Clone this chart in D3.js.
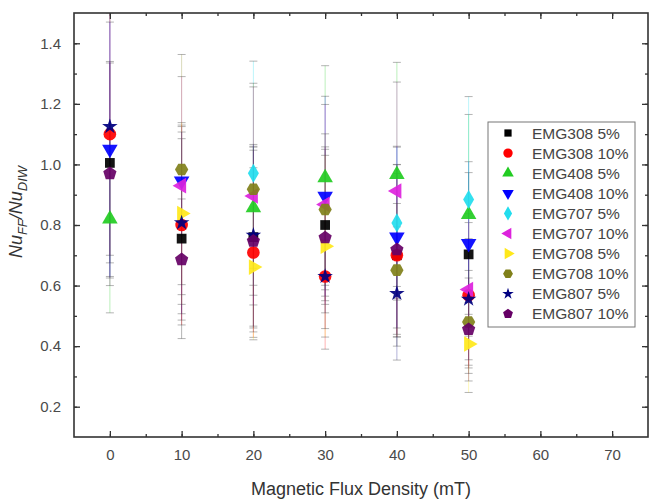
<!DOCTYPE html>
<html>
<head>
<meta charset="utf-8">
<script src="https://cdn.jsdelivr.net/npm/d3@7"></script>
<style>
  body { margin: 0; background: #fff; }
  svg { font-family: "Liberation Sans", Arial, sans-serif; }
</style>
</head>
<body>
<svg id="chart" width="649" height="500"></svg>
<script>
// Magnetic flux density (mT)
const fluxValues = [0, 10, 20, 30, 40, 50];

const seriesNames = [
  'EMG308 5%', 'EMG308 10%', 'EMG408 5%', 'EMG408 10%', 'EMG707 5%',
  'EMG707 10%', 'EMG708 5%', 'EMG708 10%', 'EMG807 5%', 'EMG807 10%'
];

// Nu_FF / Nu_DIW, one row per series (null = no visible point)
const ratioValues = [
  [1.005, 0.755, 0.76, 0.80, 0.70, 0.703],
  [1.10, 0.80, 0.709, 0.63, 0.70, 0.568],
  [0.82, null, 0.857, 0.956, 0.967, 0.835],
  [1.05, 0.945, null, 0.895, 0.76, 0.739],
  [null, null, 0.971, null, 0.807, 0.884],
  [null, 0.93, 0.896, 0.868, 0.912, 0.587],
  [null, 0.838, 0.661, 0.73, null, 0.407],
  [null, 0.983, 0.918, 0.851, 0.651, 0.48],
  [1.125, 0.807, 0.766, 0.63, 0.574, 0.555],
  [0.97, 0.686, 0.747, 0.758, 0.719, 0.455]
];

// symmetric error bars
const ratioErrors = [
  [0.33, 0.33, 0.30, 0.25, 0.30, 0.27],
  [0.40, 0.33, 0.28, 0.24, 0.27, 0.24],
  [0.31, null, 0.20, 0.37, 0.37, 0.33],
  [0.42, 0.18, null, 0.33, 0.30, 0.27],
  [null, null, 0.37, null, 0.25, 0.34],
  [null, 0.36, 0.36, 0.33, 0.36, 0.25],
  [null, 0.30, 0.24, 0.30, null, 0.16],
  [null, 0.38, 0.35, 0.25, 0.22, 0.17],
  [0.50, 0.30, 0.30, 0.12, 0.22, 0.20],
  [0.37, 0.20, 0.30, 0.30, 0.28, 0.17]
];

const xTicks = [0, 10, 20, 30, 40, 50, 60, 70];
const yTicks = [0.2, 0.4, 0.6, 0.8, 1.0, 1.2, 1.4];

const colors = ['#000000', '#ff0000', '#22cc22', '#0000ff', '#22ddee',
  '#dd22dd', '#ffe81a', '#80801a', '#000080', '#660066'];

// custom polygon symbols
function polygon(n, rot) {
  return {
    draw(ctx, size) {
      const r = Math.sqrt(size / (n * 0.5 * Math.sin(2 * Math.PI / n)));
      for (let i = 0; i < n; i++) {
        const a = rot + i * 2 * Math.PI / n;
        const px = r * Math.sin(a), py = -r * Math.cos(a);
        if (i === 0) ctx.moveTo(px, py); else ctx.lineTo(px, py);
      }
      ctx.closePath();
    }
  };
}
const symbolDefs = [
  { type: d3.symbolSquare, size: 95, rot: 0 },
  { type: d3.symbolCircle, size: 125, rot: 0 },
  { type: d3.symbolTriangle, size: 105, rot: 0 },
  { type: d3.symbolTriangle, size: 105, rot: 180 },
  { type: d3.symbolDiamond, size: 105, rot: 0 },
  { type: d3.symbolTriangle, size: 105, rot: -90 },
  { type: d3.symbolTriangle, size: 105, rot: 90 },
  { type: polygon(6, Math.PI / 6), size: 115, rot: 0 },
  { type: d3.symbolStar, size: 75, rot: 0 },
  { type: polygon(5, 0), size: 115, rot: 0 }
];

const svg = d3.select('#chart');
const pLeft = 74, pRight = 648, pTop = 13, pBottom = 437;

const x = d3.scaleLinear().domain([-5, 75]).range([pLeft, pRight]);
const y = d3.scaleLinear().domain([0.1, 1.5]).range([pBottom, pTop]);

svg.append('defs').append('clipPath').attr('id', 'plotclip')
  .append('rect').attr('x', pLeft).attr('y', pTop)
  .attr('width', pRight - pLeft).attr('height', pBottom - pTop);

const plot = svg.append('g').attr('clip-path', 'url(#plotclip)');

// error bars
seriesNames.forEach((name, s) => {
  fluxValues.forEach((fx, i) => {
    const v = ratioValues[s][i], e = ratioErrors[s][i];
    if (v == null || e == null) return;
    const g = plot.append('g').attr('stroke', colors[s]).attr('stroke-opacity', 0.3).attr('stroke-width', 1);
    const cx = x(fx);
    g.append('line').attr('x1', cx).attr('x2', cx).attr('y1', y(v - e)).attr('y2', y(v + e));
    [v - e, v + e].forEach(t => {
      g.append('line').attr('x1', cx - 4).attr('x2', cx + 4).attr('y1', y(t)).attr('y2', y(t))
        .attr('stroke', '#444').attr('stroke-opacity', 0.4);
    });
  });
});

// markers
seriesNames.forEach((name, s) => {
  const def = symbolDefs[s];
  const path = d3.symbol().type(def.type).size(def.size)();
  fluxValues.forEach((fx, i) => {
    const v = ratioValues[s][i];
    if (v == null) return;
    plot.append('path').attr('d', path)
      .attr('transform', `translate(${x(fx)},${y(v)}) rotate(${def.rot})`)
      .attr('fill', colors[s]).attr('fill-opacity', 0.92);
  });
});

// axes (ticks inward, mirrored on top and right)
const xMinor = d3.range(-5, 76, 5).filter(v => v > -5 && v < 75);
const yMinor = d3.range(0.1, 1.51, 0.1).map(v => +v.toFixed(1)).filter(v => v > 0.1 && v < 1.5);

const axBottom = d3.axisBottom(x).tickValues(xMinor).tickSize(-3).tickFormat('');
const axBottomMajor = d3.axisBottom(x).tickValues(xTicks).tickSize(-6).tickPadding(12).tickFormat(d3.format('d'));
const axTop = d3.axisTop(x).tickValues(xMinor).tickSize(-3).tickFormat('');
const axTopMajor = d3.axisTop(x).tickValues(xTicks).tickSize(-6).tickFormat('');
const axLeft = d3.axisLeft(y).tickValues(yMinor).tickSize(-3).tickFormat('');
const axLeftMajor = d3.axisLeft(y).tickValues(yTicks).tickSize(-6).tickPadding(13).tickFormat(d3.format('.1f'));
const axRight = d3.axisRight(y).tickValues(yMinor).tickSize(-3).tickFormat('');
const axRightMajor = d3.axisRight(y).tickValues(yTicks).tickSize(-6).tickFormat('');

function drawAxis(axis, tx, ty) {
  const g = svg.append('g').attr('transform', `translate(${tx},${ty})`).call(axis);
  g.select('.domain').remove();
  g.selectAll('.tick line').attr('stroke', '#333').attr('stroke-width', 1.3);
  g.selectAll('.tick text').attr('fill', '#4a4a4a').attr('font-size', 15)
    .attr('font-family', '"Liberation Sans", Arial, sans-serif');
  return g;
}
drawAxis(axBottom, 0, pBottom);
drawAxis(axBottomMajor, 0, pBottom);
drawAxis(axTop, 0, pTop);
drawAxis(axTopMajor, 0, pTop);
drawAxis(axLeft, pLeft, 0);
drawAxis(axLeftMajor, pLeft, 0);
drawAxis(axRight, pRight, 0);
drawAxis(axRightMajor, pRight, 0);

svg.append('rect').attr('x', pLeft).attr('y', pTop)
  .attr('width', pRight - pLeft).attr('height', pBottom - pTop)
  .attr('fill', 'none').attr('stroke', '#333').attr('stroke-width', 1.6);

// axis titles
svg.append('text').attr('x', (pLeft + pRight) / 2).attr('y', 495)
  .attr('text-anchor', 'middle').attr('font-size', 18).attr('fill', '#333')
  .text('Magnetic Flux Density (mT)');

const yt = svg.append('text')
  .attr('transform', 'translate(22,212) rotate(-90)')
  .attr('text-anchor', 'middle').attr('font-size', 18).attr('fill', '#333')
  .attr('font-style', 'italic');
yt.append('tspan').text('Nu');
yt.append('tspan').attr('font-size', 13).attr('dy', 5).text('FF');
yt.append('tspan').attr('dy', -5).text('/Nu');
yt.append('tspan').attr('font-size', 13).attr('dy', 5).text('DIW');

// legend
const legX = 488, legY = 122, legW = 147, legH = 205, rowH = 20.1;
const leg = svg.append('g');
leg.append('rect').attr('x', legX).attr('y', legY).attr('width', legW).attr('height', legH)
  .attr('fill', '#fff').attr('stroke', '#777').attr('stroke-width', 1);
seriesNames.forEach((name, s) => {
  const cy = legY + 11 + s * rowH;
  const def = symbolDefs[s];
  leg.append('path').attr('d', d3.symbol().type(def.type).size(def.size * 0.55)())
    .attr('transform', `translate(${legX + 20},${cy}) rotate(${def.rot})`)
    .attr('fill', colors[s]);
  leg.append('text').attr('x', legX + 44).attr('y', cy).attr('dy', '0.36em')
    .attr('font-size', 15.5).attr('fill', '#444').text(name);
});
</script>
</body>
</html>
